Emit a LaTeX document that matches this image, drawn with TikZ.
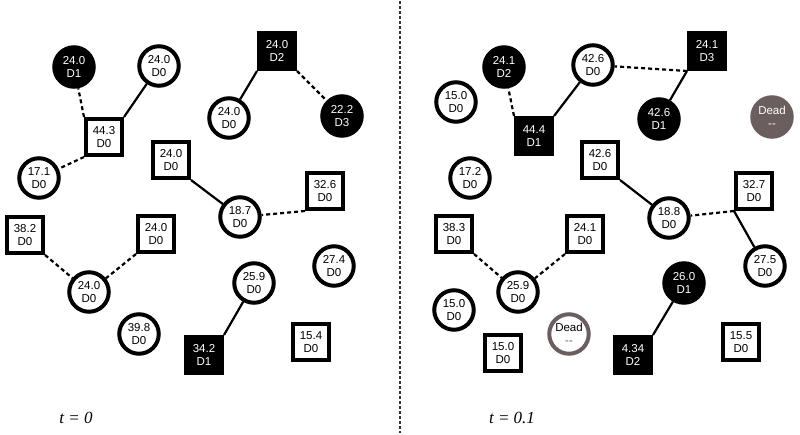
\documentclass[tikz,border=0pt]{standalone}
\usepackage{fontspec}
\setmainfont{Liberation Sans}
\newfontfamily\tserif{Liberation Serif}
\definecolor{deadgray}{HTML}{6B5E5E}
\begin{document}
\begin{tikzpicture}[x=1pt,y=-1pt,
  base/.style={draw=black, line width=4pt, fill=white, align=center, inner sep=0pt,
    font=\fontsize{11.5}{13.5}\selectfont},
  cir/.style={base, circle, minimum size=39.5pt},
  sqr/.style={base, rectangle, minimum size=36pt},
  blk/.style={fill=black, text=white},
  deadf/.style={cir, fill=deadgray, draw=deadgray, text=white},
  deadw/.style={cir, draw=deadgray},
  soledge/.style={line width=2.2pt},
  dashedge/.style={line width=2.2pt, dash pattern=on 4pt off 3pt},
  tlabel/.style={font=\tserif\itshape\fontsize{17}{19}\selectfont}]
\useasboundingbox (0,0) rectangle (800,435);
% divider
\coordinate (dtop) at (400,1);
\coordinate (dbot) at (400,433);
\draw[line width=1.2pt, black!80, dash pattern=on 3pt off 2pt] (dtop) -- (dbot);
% ---------- left panel ----------
\node[cir,blk] (L1) at (74,67) {24.0\\D1};
\node[cir] (L2) at (159,66) {24.0\\D0};
\node[sqr] (L3) at (104,137) {44.3\\D0};
\node[sqr,blk] (L4) at (277,51) {24.0\\D2};
\node[cir] (L5) at (229,118) {24.0\\D0};
\node[cir,blk] (L6) at (342,116) {22.2\\D3};
\node[cir] (L7) at (39,178) {17.1\\D0};
\node[sqr] (L8) at (171,160) {24.0\\D0};
\node[sqr] (L9) at (325,191) {32.6\\D0};
\node[cir] (L10) at (240,217) {18.7\\D0};
\node[sqr] (L11) at (25,235) {38.2\\D0};
\node[sqr] (L12) at (156,234) {24.0\\D0};
\node[cir] (L13) at (89,292) {24.0\\D0};
\node[cir] (L14) at (139,334) {39.8\\D0};
\node[cir] (L15) at (254,283) {25.9\\D0};
\node[cir] (L16) at (334,266) {27.4\\D0};
\node[sqr,blk] (L17) at (204,355) {34.2\\D1};
\node[sqr] (L18) at (311,342) {15.4\\D0};
\draw[dashedge] (L3.north west) -- (L1);
\draw[soledge] (L3.north east) -- (L2);
\draw[dashedge] (L3.south west) -- (L7);
\draw[soledge] (L4.south west) -- (L5);
\draw[dashedge] (L4.south east) -- (L6);
\draw[soledge] (L8.south east) -- (L10);
\draw[dashedge] (L9.south west) -- (L10);
\draw[dashedge] (L11.south east) -- (L13);
\draw[dashedge] (L12.south west) -- (L13);
\draw[soledge] (L17.north east) -- (L15);
\node[tlabel] (tl) at (76,418) {t = 0};
% ---------- right panel ----------
\node[cir,blk] (R1) at (504,67) {24.1\\D2};
\node[cir] (R2) at (593,65) {42.6\\D0};
\node[sqr,blk] (R3) at (707,51) {24.1\\D3};
\node[cir] (R4) at (456,102) {15.0\\D0};
\node[sqr,blk] (R5) at (534,136) {44.4\\D1};
\node[cir,blk] (R6) at (659,119) {42.6\\D1};
\node[deadf] (R7) at (772,117) {Dead\\-{}-};
\node[cir] (R8) at (470,178) {17.2\\D0};
\node[sqr] (R9) at (600,160) {42.6\\D0};
\node[sqr] (R10) at (754,191) {32.7\\D0};
\node[cir] (R11) at (669,218) {18.8\\D0};
\node[sqr] (R12) at (454,234) {38.3\\D0};
\node[sqr] (R13) at (585,234) {24.1\\D0};
\node[cir] (R14) at (518,292) {25.9\\D0};
\node[cir] (R15) at (454,310) {15.0\\D0};
\node[sqr] (R16) at (503,353) {15.0\\D0};
\node[deadw] (R17) at (569,334) {Dead\\\textcolor{deadgray}{-{}-}};
\node[cir,blk] (R18) at (684,283) {26.0\\D1};
\node[sqr,blk] (R19) at (633,355) {4.34\\D2};
\node[cir] (R20) at (765,266) {27.5\\D0};
\node[sqr] (R21) at (741,342) {15.5\\D0};
\draw[dashedge] (R5.north west) -- (R1);
\draw[soledge] (R5.north east) -- (R2);
\draw[dashedge] (R3.south west) -- (R2);
\draw[soledge] (R3.south west) -- (R6);
\draw[soledge] (R9.south east) -- (R11);
\draw[dashedge] (R10.south west) -- (R11);
\draw[soledge] (R10.south west) -- (R20);
\draw[dashedge] (R12.south east) -- (R14);
\draw[dashedge] (R13.south west) -- (R14);
\draw[soledge] (R19.north east) -- (R18);
\node[tlabel] (tr) at (512,418) {t = 0.1};
\end{tikzpicture}
\end{document}
